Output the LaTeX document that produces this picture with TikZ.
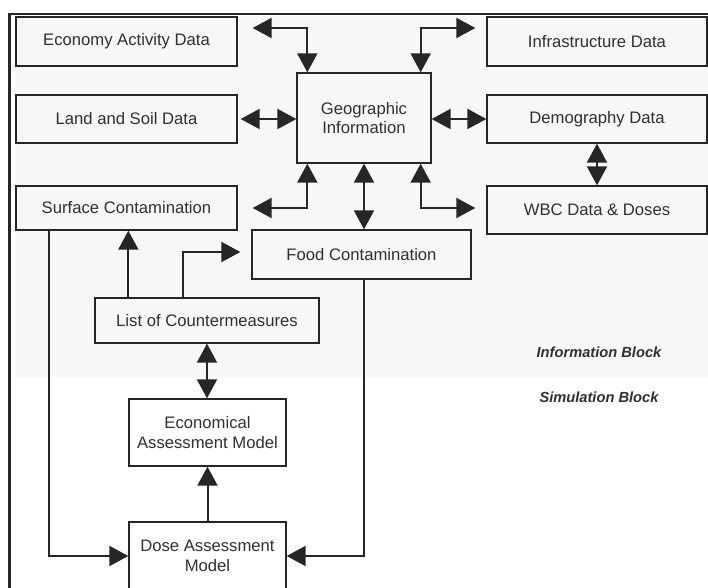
\documentclass[tikz,border=0pt]{standalone}
\usepackage{fontspec}
\setmainfont{Liberation Sans}
\usetikzlibrary{arrows.meta,calc}
\definecolor{ink}{HTML}{262626}
\definecolor{txt}{HTML}{303030}
\definecolor{panel}{HTML}{F7F7F7}
\begin{document}
\begin{tikzpicture}[x=0.75pt,y=-0.75pt,
  box/.style={draw=ink,line width=1pt,rectangle,inner sep=2pt,align=center,
    text=txt,font=\fontsize{12.5}{14.5}\selectfont},
  link/.style={draw=ink,line width=1.5pt},
  dbl/.style={link,{Triangle[length=14.25pt,width=15pt]}-{Triangle[length=14.25pt,width=15pt]}},
  sgl/.style={link,-{Triangle[length=14.25pt,width=15pt]}},
  blocklabel/.style={text=txt,font=\fontsize{11}{13}\selectfont\bfseries\itshape}]
\useasboundingbox (0,0) rectangle (708,588);
% background panel of the information block
\fill[panel] (16,16) rectangle (708,377);
% outer frame (top and left edges)
\draw[ink,line width=1.9pt] (9.5,592) -- (9.5,14) -- (712,14);

% information block
\node[box,minimum width=165.75pt,minimum height=36.75pt] (econ)  at (126.5,41.5) {Economy Activity Data};
\node[box,minimum width=165.75pt,minimum height=36pt]    (land)  at (126.5,119) {Land and Soil Data};
\node[box,minimum width=165.75pt,minimum height=33pt]    (surf)  at (126.5,208) {Surface Contamination};
\node[box,minimum width=100.5pt,minimum height=67.5pt]   (geo)   at (364,118) {Geographic\\Information};
\node[box,minimum width=165pt,minimum height=36.75pt]    (infra) at (597,41.5) {Infrastructure Data};
\node[box,minimum width=165pt,minimum height=36pt]       (demo)  at (597,119) {Demography Data};
\node[box,minimum width=165pt,minimum height=36pt]       (wbc)   at (597,210) {WBC Data \& Doses};
\node[box,minimum width=164.25pt,minimum height=36.75pt] (food)  at (361.5,254.5) {Food Contamination};
\node[box,minimum width=168pt,minimum height=33.75pt]    (cm)    at (207,320.5) {List of Countermeasures};

% simulation block
\node[box,minimum width=117.75pt,minimum height=50.25pt] (eco)  at (207.5,432.5) {Economical\\Assessment Model};
\node[box,minimum width=117.75pt,minimum height=51pt]    (dose) at (207.5,556) {Dose Assessment\\Model};

\node[blocklabel] (infolabel) at (599,352) {Information Block};
\node[blocklabel] (simlabel)  at (599,397) {Simulation Block};

% exchanges with the geographic information
\draw[dbl,shorten <=11.25pt] ([yshift=10.125pt]econ.east) -| ([xshift=8.25pt]geo.north west);
\draw[dbl,shorten >=8.25pt] ([xshift=-8.25pt]geo.north east) |- ([yshift=10.125pt]infra.west);
\draw[dbl,shorten <=2.25pt] (land.east) -- (land.east -| geo.west);
\draw[dbl] (geo.east |- demo.west) -- (demo.west);
\draw[dbl] (demo.south) -- (wbc.north -| demo.south);
\draw[dbl,shorten >=11.25pt] ([xshift=8.25pt]geo.south west) |- (surf.east);
\draw[dbl] (geo.south) -- (geo.south |- food.north);
\draw[dbl,shorten >=8.25pt] ([xshift=-8.25pt]geo.south east) |- ([yshift=1.5pt]wbc.west);

% countermeasures
\draw[sgl] ([xshift=25.5pt]cm.north west) -- ([xshift=25.5pt]cm.north west |- surf.south);
\draw[sgl,shorten >=8.25pt] ([xshift=66.75pt]cm.north west) |- ([yshift=1.875pt]food.west);
\draw[dbl] (cm.south) -- (cm.south |- eco.north);

% models
\draw[sgl] (dose.north) -- (eco.south);
\draw[sgl] ([xshift=25.5pt]surf.south west) |- (dose.west);
\draw[sgl] ([xshift=1.875pt]food.south) |- (dose.east);
\end{tikzpicture}
\end{document}
